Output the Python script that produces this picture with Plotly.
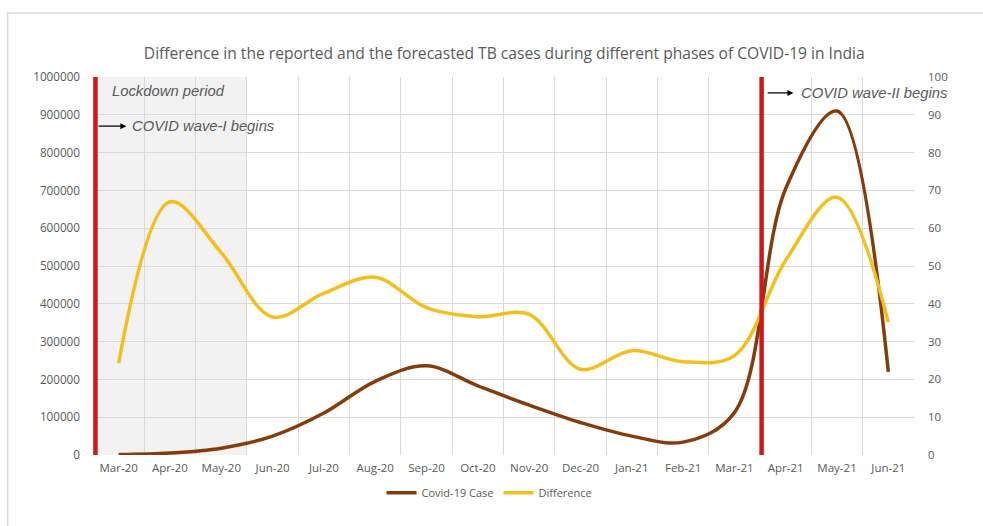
import plotly.graph_objects as go

months = ["Mar-20", "Apr-20", "May-20", "Jun-20", "Jul-20", "Aug-20", "Sep-20", "Oct-20",
          "Nov-20", "Dec-20", "Jan-21", "Feb-21", "Mar-21", "Apr-21", "May-21", "Jun-21"]
covid_cases = [1000, 5000, 18000, 50000, 111000, 195000, 236000, 183000,
               132000, 86000, 50000, 34000, 112000, 705000, 910000, 220000]
difference = [24.3, 67, 53.5, 36.5, 42.8, 47, 39, 36.6,
              37.2, 22.7, 27.6, 24.7, 26.3, 51.5, 68.2, 35.1]

BROWN = "#843c0c"
GOLD = "#f2c01e"
RED = "#cc1a1a"
TXT = "#595959"
GRID = "#d9d9d9"
FONT = "Open Sans"
ANN_FONT = dict(family="Liberation Sans", size=14.8, color=TXT)

fig = go.Figure()
fig.add_trace(go.Scatter(x=months, y=covid_cases, name="Covid-19 Case", mode="lines",
                         line=dict(color=BROWN, width=3.5, shape="spline", smoothing=1.0)))
fig.add_trace(go.Scatter(x=months, y=difference, name="Difference", mode="lines", yaxis="y2",
                         line=dict(color=GOLD, width=3.5, shape="spline", smoothing=1.0)))

shapes = [
    dict(type="rect", xref="x", yref="y", x0=-0.5, x1=2.5, y0=0, y1=1000000,
         fillcolor="#f2f2f2", line=dict(width=0), layer="below"),
    dict(type="line", xref="x", yref="y", x0=-0.452, x1=-0.452, y0=-12000, y1=1010000,
         line=dict(color=RED, width=4.5)),
    dict(type="line", xref="x", yref="y", x0=12.53, x1=12.53, y0=-18000, y1=1010000,
         line=dict(color=RED, width=4.5)),
    dict(type="rect", xref="paper", yref="paper", x0=-0.104, x1=1.12, y0=-0.25, y1=1.169,
         line=dict(color=GRID, width=1.5), fillcolor="rgba(0,0,0,0)", layer="below"),
]

annotations = [
    dict(x=-0.16, y=963000, xref="x", yref="y", text="<i>Lockdown period</i>", showarrow=False,
         xanchor="left", font=ANN_FONT),
    dict(x=0.23, y=870000, xref="x", yref="y", text="<i>COVID wave-I begins</i>", showarrow=False,
         xanchor="left", font=ANN_FONT),
    dict(x=0.15, y=870000, ax=-0.42, ay=870000, xref="x", yref="y", axref="x", ayref="y",
         text="", showarrow=True, arrowhead=2, arrowsize=1, arrowwidth=1.2, arrowcolor="black"),
    dict(x=13.25, y=958000, xref="x", yref="y", text="<i>COVID wave-II begins</i>", showarrow=False,
         xanchor="left", font=ANN_FONT),
    dict(x=13.15, y=958000, ax=12.62, ay=958000, xref="x", yref="y", axref="x", ayref="y",
         text="", showarrow=True, arrowhead=2, arrowsize=1, arrowwidth=1.2, arrowcolor="black"),
]

fig.update_layout(
    width=983, height=526,
    margin=dict(l=93, r=69, t=77, b=71),
    paper_bgcolor="white", plot_bgcolor="white",
    font=dict(family=FONT, size=11.5, color=TXT),
    title=dict(text="Difference in the reported and the forecasted TB cases during different phases of COVID-19 in India",
               x=0.513, xanchor="center", y=0.898, yanchor="middle",
               font=dict(family=FONT, size=15.6, color=TXT)),
    xaxis=dict(type="category", tickson="boundaries", showgrid=True, gridcolor=GRID, gridwidth=1,
               ticks="", showline=False, zeroline=False, range=[-0.5, 15.5],
               ticklabelstandoff=4, tickfont=dict(size=11.5, color=TXT)),
    yaxis=dict(range=[0, 1000000], dtick=100000, showgrid=True, gridcolor=GRID, gridwidth=1,
               zeroline=False, showline=False, tickformat="d", ticks="",
               ticklabelstandoff=12, tickfont=dict(size=11.7, color=TXT)),
    yaxis2=dict(range=[0, 100], dtick=10, overlaying="y", side="right", showgrid=False,
                zeroline=False, showline=False, ticks="", ticklabelstandoff=13,
                tickfont=dict(size=11.5, color=TXT)),
    legend=dict(orientation="h", x=0.483, xanchor="center", y=-0.1, yanchor="middle",
                font=dict(size=11, color=TXT), bgcolor="rgba(0,0,0,0)"),
    shapes=shapes,
    annotations=annotations,
    showlegend=True,
)

fig.write_html("out.html")
